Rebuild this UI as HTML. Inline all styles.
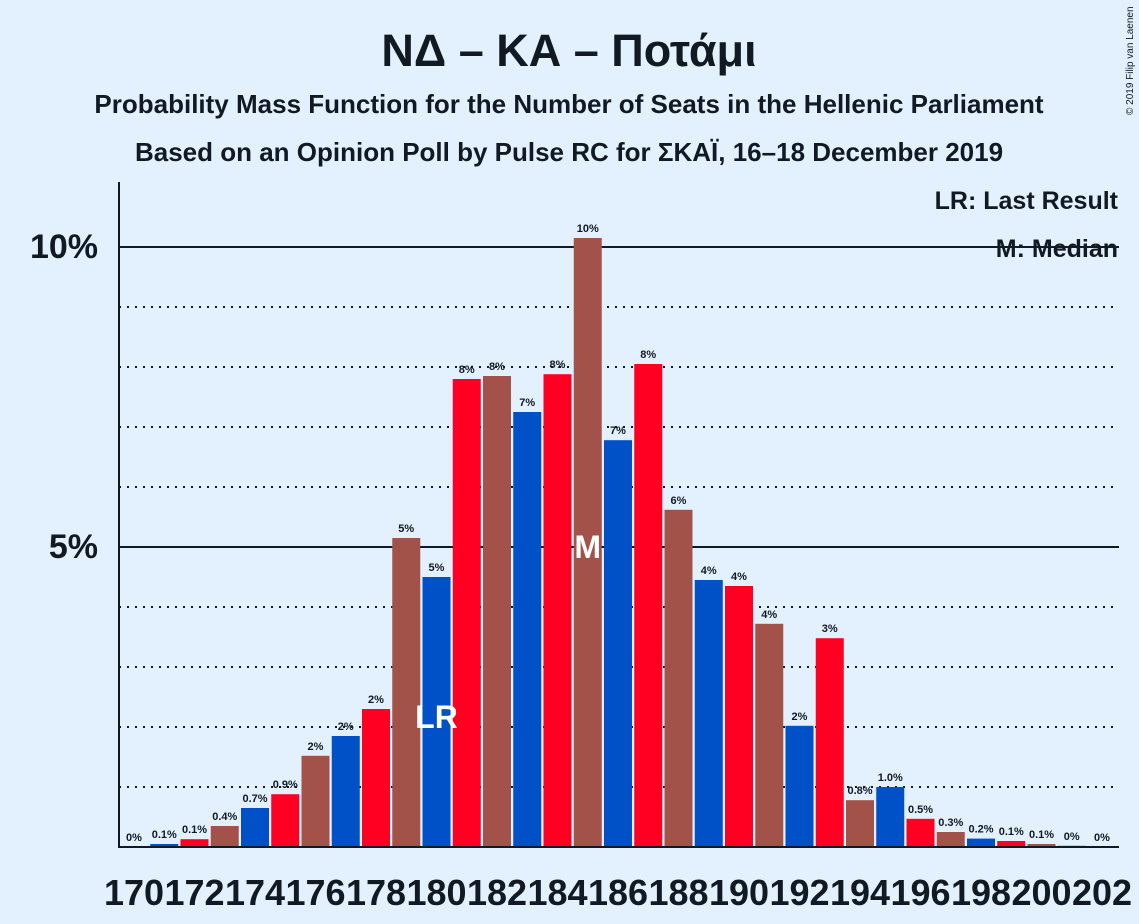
<!DOCTYPE html>
<html><head><meta charset="utf-8">
<style>
body{margin:0;background:#e3f0fd;}
svg{display:block;font-family:"Liberation Sans","DejaVu Sans",sans-serif;}
</style></head>
<body>
<svg id="chart" width="1139" height="924" viewBox="0 0 1139 924">
<rect width="1139" height="924" fill="#e3f0fd"/>
<text x="569" y="66" text-anchor="middle" font-size="45" font-weight="bold" fill="#111a22">ΝΔ – ΚΑ – Ποτάμι</text>
<text x="569" y="113" text-anchor="middle" font-size="26" font-weight="bold" fill="#111a22">Probability Mass Function for the Number of Seats in the Hellenic Parliament</text>
<text x="569" y="161" text-anchor="middle" font-size="26" font-weight="bold" fill="#111a22">Based on an Opinion Poll by Pulse RC for ΣΚΑΪ, 16–18 December 2019</text>
<text x="1133" y="115" font-size="10" fill="#111a22" transform="rotate(-90 1133 115)">© 2019 Filip van Laenen</text>
<g id="grid"></g>
<g id="bars"></g>
<g id="labels"></g>
<g id="xticks"></g>
<line x1="119" y1="182" x2="119" y2="848" stroke="#111a22" stroke-width="2"/>
<line x1="118" y1="847" x2="1119" y2="847" stroke="#111a22" stroke-width="2"/>
<text x="98" y="258" text-anchor="end" font-size="34" font-weight="bold" fill="#111a22">10%</text>
<text x="98" y="558" text-anchor="end" font-size="34" font-weight="bold" fill="#111a22">5%</text>
<text x="1118" y="209" text-anchor="end" font-size="25" font-weight="bold" fill="#111a22">LR: Last Result</text>
<text x="1118" y="257" text-anchor="end" font-size="25" font-weight="bold" fill="#111a22">M: Median</text>
</svg>
<script>
const seats=[170,171,172,173,174,175,176,177,178,179,180,181,182,183,184,185,186,187,188,189,190,191,192,193,194,195,196,197,198,199,200,201,202];
const probs=[0,0.05,0.13,0.35,0.65,0.88,1.52,1.85,2.3,5.15,4.5,7.8,7.85,7.25,7.88,10.15,6.78,8.05,5.62,4.45,4.35,3.72,2.02,3.48,0.78,1.0,0.47,0.25,0.14,0.1,0.05,0.02,0];
const valueLabels=["0%","0.1%","0.1%","0.4%","0.7%","0.9%","2%","2%","2%","5%","5%","8%","8%","7%","8%","10%","7%","8%","6%","4%","4%","4%","2%","3%","0.8%","1.0%","0.5%","0.3%","0.2%","0.1%","0.1%","0%","0%"];
const gridLevels=[1,2,3,4,5,6,7,8,9,10];
const lastResult=180, median=185;
const colors=["#a3524a","#0050c8","#ff0022"];
const NS="http://www.w3.org/2000/svg";
const x0=120, pitch=30.25, bw=28, base=847, pxPer=60;
const xs=s=>x0+(s-170)*pitch;
const ys=v=>base-v*pxPer;
function mk(t,a,p){const e=document.createElementNS(NS,t);for(const k in a)e.setAttribute(k,a[k]);p.appendChild(e);return e;}
const g=document.getElementById('grid');
gridLevels.forEach(l=>{
  const ln=mk('line',{x1:119,x2:1119,y1:ys(l),y2:ys(l),stroke:'#111a22','stroke-width':2,'stroke-dasharray':l%5===0?'none':'2,6'},g);
  
  
});
const b=document.getElementById('bars'),lb=document.getElementById('labels'),xt=document.getElementById('xticks');
seats.forEach((s,i)=>{
  const v=probs[i];
  const r=mk('rect',{x:xs(s),y:ys(v),width:bw,height:Math.max(0,base-ys(v)),fill:colors[(s-170)%3]},b);
  
  
  const t=mk('text',{x:xs(s)+bw/2,y:ys(v)-6,'text-anchor':'middle','font-size':11,'font-weight':'bold',fill:'#111a22'},lb);
  t.textContent=valueLabels[i];
  
  
  if((s-170)%2===0){
    const tk=mk('text',{x:xs(s)+bw/2,y:905,'text-anchor':'middle','font-size':36,'font-weight':'bold',fill:'#111a22'},xt);
    tk.textContent=s;
    
    
  }
  if(s===lastResult||s===median){
    const m=mk('text',{x:xs(s)+bw/2,y:s===median?558:728,'text-anchor':'middle','font-size':32,'font-weight':'bold',fill:'#ffffff'},lb);
    m.textContent=s===median?'M':'LR';
    
    
  }
});
</script>
</body></html>
